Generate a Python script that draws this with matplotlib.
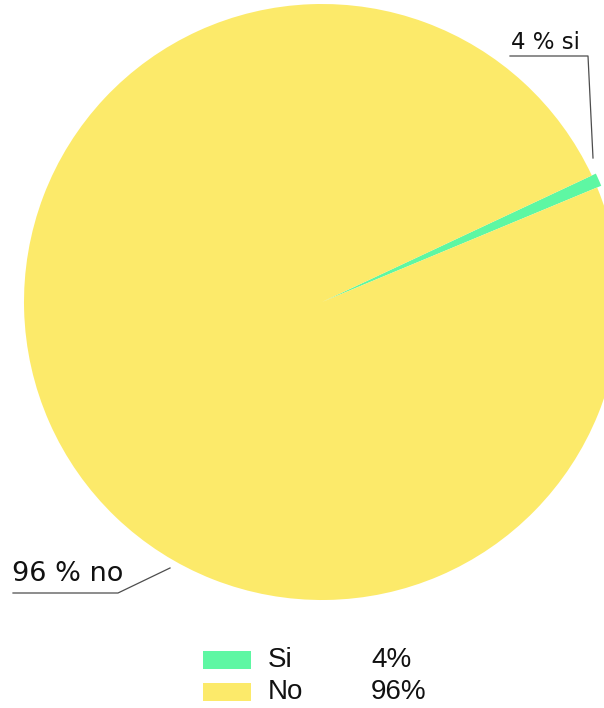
import matplotlib
matplotlib.use("Agg")
import matplotlib.pyplot as plt
from matplotlib.patches import Rectangle
from matplotlib.lines import Line2D

# answers and their shares
categories = ["Si", "No"]
percent = [4, 96]                      # as printed in labels / legend
slice_labels = ["4 % si", "96 % no"]
# wedge sizes as drawn in the picture (the "si" wedge is drawn very thin)
wedge_share = [0.7, 99.3]
colors = ["#5EF7A3", "#FCEA6A"]

W, H = 604, 708
fig = plt.figure(figsize=(W / 100, H / 100), dpi=100)

# pie centre (322, 302) px, radius 298 px
cx, cy, r = 322, 302, 298
ax = fig.add_axes([(cx - r) / W, (H - cy - r) / H, 2 * r / W, 2 * r / H])
wedges, _ = ax.pie(wedge_share, colors=colors, startangle=22.6,
                   counterclock=True, radius=1.0,
                   wedgeprops=dict(linewidth=0))
wedges[0].set_radius(1.015)
for w in wedges:
    w.set_clip_on(False)
ax.set_xlim(-1, 1)
ax.set_ylim(-1, 1)
ax.set_aspect("equal")
ax.axis("off")


def px(x, y):
    return x / W, 1 - y / H


def leader(points):
    xs, ys = zip(*[px(x, y) for x, y in points])
    fig.add_artist(Line2D(xs, ys, transform=fig.transFigure,
                          color="#4d4d4d", linewidth=0.9))


label_family = ["DejaVu Sans"]

# "si" label
leader([(510, 56), (588, 56), (593, 158)])
fig.text(*px(511, 49), slice_labels[0], ha="left", va="baseline",
         family=label_family, fontsize=16.5, color="#111111")

# "no" label
leader([(13, 593), (118, 593), (170, 568)])
fig.text(*px(12, 581), slice_labels[1], ha="left", va="baseline",
         family=label_family, fontsize=19.5, color="#111111")

# legend
leg_font = dict(family=["Liberation Sans", "DejaVu Sans"], fontsize=20,
                color="#111111")
rows_y = [660, 692]
for cat, pct, col, yy in zip(categories, percent, colors, rows_y):
    x0, y0 = px(203, yy + 9)
    fig.add_artist(Rectangle((x0, y0), 48 / W, 18 / H, transform=fig.transFigure,
                             facecolor=col, edgecolor="none"))
    fig.text(*px(268, yy), cat, ha="left", va="center", **leg_font)
    fig.text(*px(371, yy), f"{pct}%", ha="left", va="center", **leg_font)

fig.savefig("out.png", dpi=100, facecolor="white")
